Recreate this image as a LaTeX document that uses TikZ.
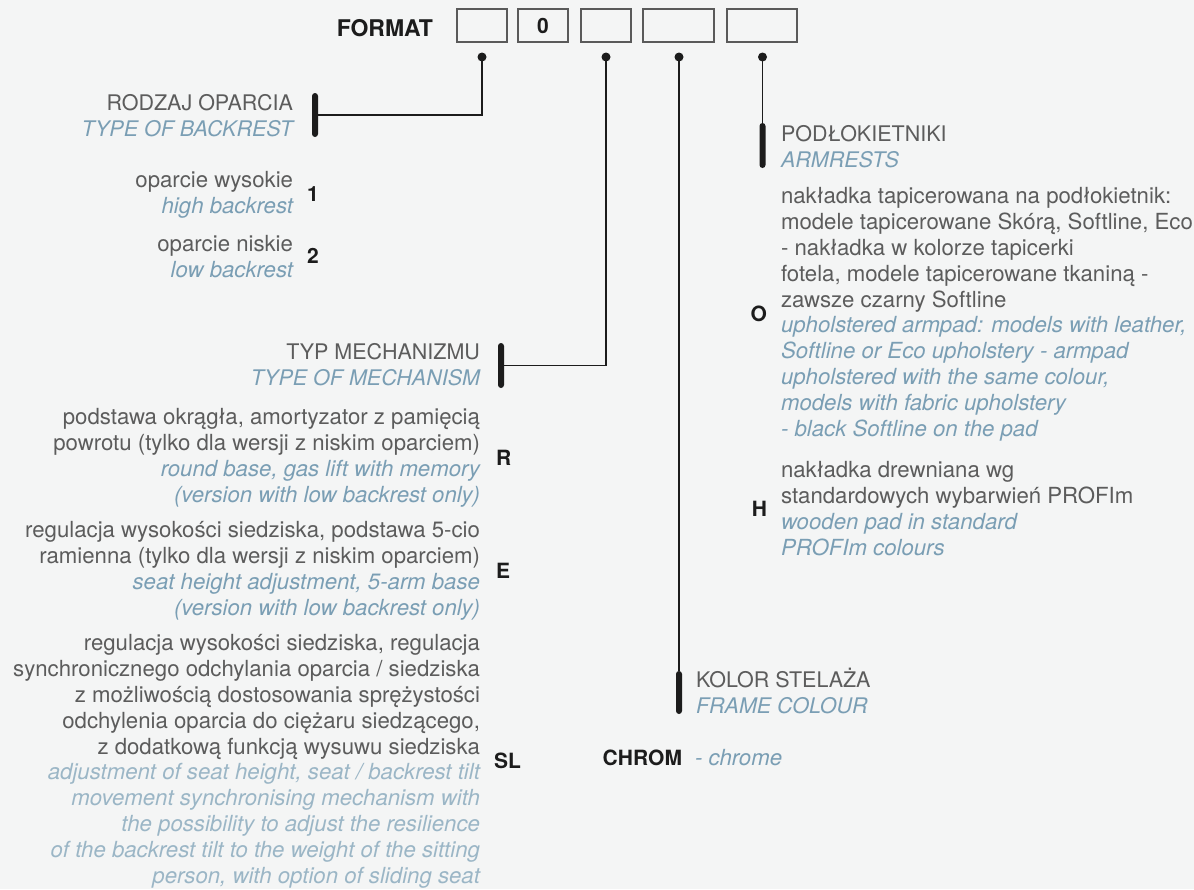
\documentclass[tikz,border=0pt]{standalone}
\usepackage{fontspec}
\setmainfont{TeX Gyre Heros}
\usetikzlibrary{positioning}

\definecolor{bggray}{HTML}{F4F5F5}
\definecolor{txtgray}{HTML}{5C5C5C}
\definecolor{engblue}{HTML}{7A9EB4}
\definecolor{englight}{HTML}{9BB6C6}
\definecolor{ink}{HTML}{1C1C1C}
\definecolor{boxgray}{HTML}{5A5A5A}

\newcommand{\en}[1]{{\color{engblue}\itshape #1}}
\newcommand{\enl}[1]{{\color{englight}\itshape #1}}

\begin{document}
\begin{tikzpicture}[x=0.5pt,y=-0.5pt,
    every node/.style={inner sep=0pt, outer sep=0pt, text=txtgray,
      font=\fontsize{11.1}{12.9}\selectfont},
    optR/.style={align=right, anchor=base east},
    optL/.style={align=left, anchor=base west},
    head/.style={font=\fontsize{10.75}{12.9}\selectfont},
    code/.style={text=ink, font=\fontsize{10.5}{12}\selectfont\bfseries},
    slot/.style={draw=boxgray, line width=0.6pt, minimum width=25pt,
      minimum height=16.5pt, text=ink, font=\fontsize{10.5}{12}\selectfont\bfseries},
    dot/.style={circle, fill=ink, minimum size=4.5pt},
    bar/.style={fill=ink, rounded corners=1.5pt, minimum width=3pt, minimum height=22pt},
    conn/.style={draw=ink, line width=0.65pt}]

    % background
    \fill[bggray] (0,0) rectangle (1194,889);
    \useasboundingbox (0,0) rectangle (1194,889);

    % code slots
    \node[text=ink, font=\fontsize{11.5}{13}\selectfont\bfseries, anchor=base east] (fmt) at (433,36) {FORMAT};
    \node[slot] (s1) at (482,25.5) {};
    \node[slot] (s2) at (543,25.5) {0};
    \node[slot] (s3) at (606,25.5) {};
    \node[slot, minimum width=35.5pt] (s4) at (678.5,25.5) {};
    \node[slot, minimum width=35pt] (s5) at (762,25.5) {};

    \node[dot] (d1) at (482,57) {};
    \node[dot] (d3) at (606,57) {};
    \node[dot] (d4) at (679,57) {};
    \node[dot] (d5) at (762.5,57) {};

    % backrest (base = last line)
    \node[optR, head] (backrest) at (293,136) {RODZAJ OPARCIA\\ \en{TYPE OF BACKREST}};
    \node[bar] (bar1) at (315,115) {};
    \node[optR] (high) at (293,213) {oparcie wysokie\\ \en{high backrest}};
    \node[code, right=7pt of high] (c1) {1};
    \node[optR] (low) at (293,277) {oparcie niskie\\ \en{low backrest}};
    \node[code, right=7pt of low] (c2) {2};

    % mechanism
    \node[optR, head] (mech) at (480,385) {TYP MECHANIZMU\\ \en{TYPE OF MECHANISM}};
    \node[bar, minimum height=22.5pt] (bar3) at (501,365.5) {};
    \node[optR] (mR) at (480,502) {podstawa okrągła, amortyzator z pamięcią\\
      powrotu (tylko dla wersji z niskim oparciem)\\
      \en{round base, gas lift with memory}\\
      \en{(version with low backrest only)}};
    \node[code, right=8pt of mR] (cR) {R};
    \node[optR] (mE) at (480,615) {regulacja wysokości siedziska, podstawa 5-cio\\
      ramienna (tylko dla wersji z niskim oparciem)\\
      \en{seat height adjustment, 5-arm base}\\
      \en{(version with low backrest only)}};
    \node[code, right=8pt of mE] (cE) {E};
    \node[optR] (mSL) at (480,883) {regulacja wysokości siedziska, regulacja\\
      synchronicznego odchylania oparcia / siedziska\\
      z możliwością dostosowania sprężystości\\
      odchylenia oparcia do ciężaru siedzącego,\\
      z dodatkową funkcją wysuwu siedziska\\
      \enl{adjustment of seat height, seat / backrest tilt}\\
      \enl{movement synchronising mechanism with}\\
      \enl{the possibility to adjust the resilience}\\
      \enl{of the backrest tilt to the weight of the sitting}\\
      \enl{person, with option of sliding seat}};
    \node[code, right=7pt of mSL] (cSL) {SL};

    % frame colour
    \node[optL, head] (frame) at (696,713) {KOLOR STELAŻA\\ \en{FRAME COLOUR}};
    \node[bar, minimum height=21.5pt] (bar4) at (679,692.5) {};
    \node[code, anchor=base east] (chrom) at (682,765) {CHROM};
    \node[anchor=base west] (chrome) at (695,765) {\en{- chrome}};

    % armrests
    \node[optL, head] (arm) at (781,167) {PODŁOKIETNIKI\\ \en{ARMRESTS}};
    \node[bar, minimum height=22.5pt] (bar5) at (762.5,145.5) {};
    \node[optL] (aO) at (781,436) {nakładka tapicerowana na podłokietnik:\\
      modele tapicerowane Skórą, Softline, Eco\\
      - nakładka w kolorze tapicerki\\
      fotela, modele tapicerowane tkaniną -\\
      zawsze czarny Softline\\
      \en{upholstered armpad: models with leather,}\\
      \en{Softline or Eco upholstery - armpad}\\
      \en{upholstered with the same colour,}\\
      \en{models with fabric upholstery}\\
      \en{- black Softline on the pad}};
    \node[code, left=7pt of aO] (cO) {O};
    \node[optL] (aH) at (781,555) {nakładka drewniana wg\\
      standardowych wybarwień PROFIm\\
      \en{wooden pad in standard}\\
      \en{PROFIm colours}};
    \node[code, left=7pt of aH] (cH) {H};

    % connectors
    \draw[conn] (d1.center) |- (bar1);
    \draw[conn] (d3.center) |- (bar3);
    \draw[conn] (d4.center) -- (bar4);
    \draw[conn] (d5.center) -- (bar5);
\end{tikzpicture}
\end{document}
